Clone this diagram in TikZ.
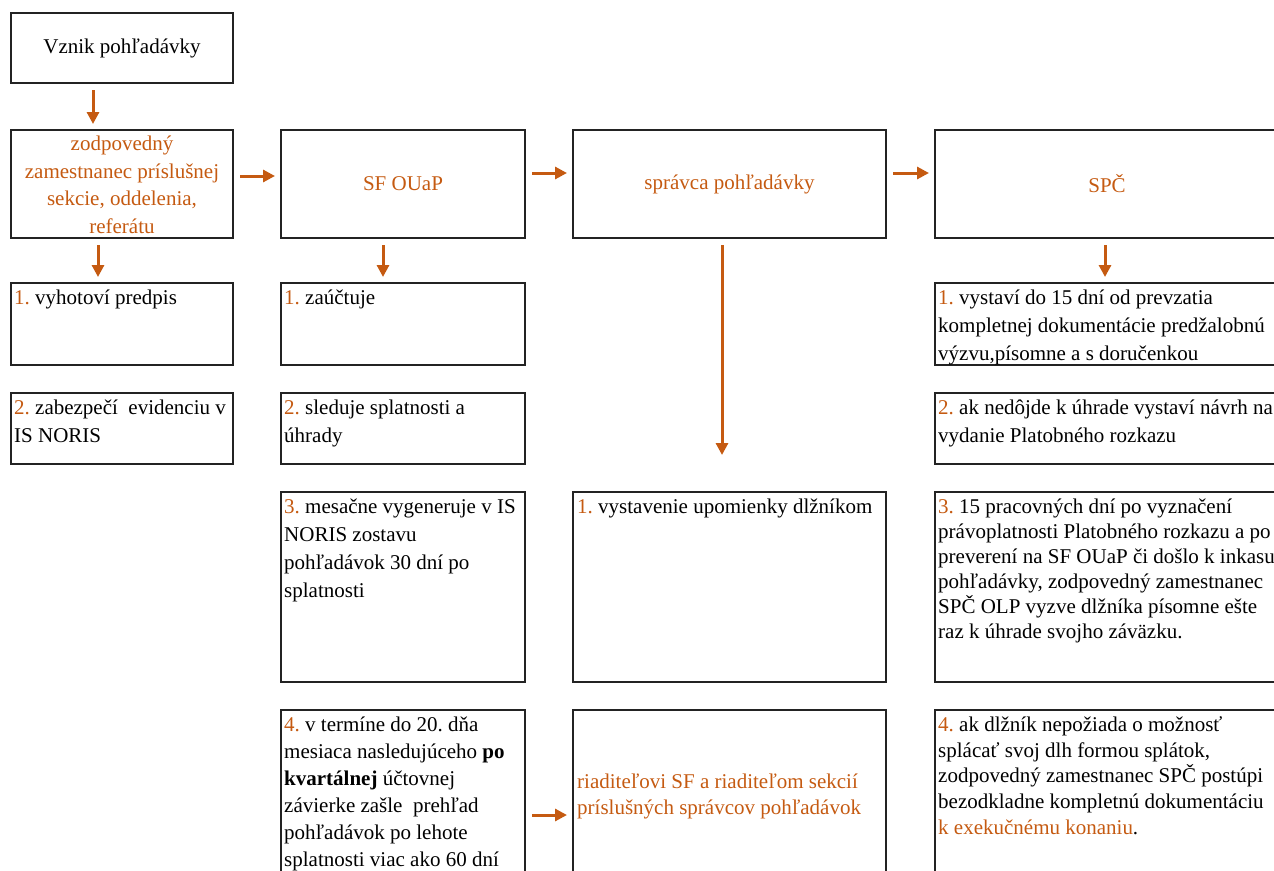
\documentclass[tikz,border=0pt]{standalone}
\usepackage{fontspec}
\setmainfont{Liberation Serif}
\usetikzlibrary{arrows.meta}
\definecolor{org}{RGB}{197,90,17}
\definecolor{boxline}{RGB}{35,35,35}
\newcommand\orn[1]{\textcolor{org}{#1}}
\newcommand\fl{\rule{0pt}{17pt}}
\frenchspacing
\begin{document}
\begin{tikzpicture}[x=1pt,y=-1pt,
  box/.style={draw=boxline, line width=1.6pt, anchor=north west, inner sep=0pt, outer sep=0pt},
  cbox/.style={box, align=center, font=\fontsize{21}{27.5}\selectfont},
  txt/.style={anchor=north west, inner sep=0pt, align=left},
  arr/.style={draw=org, line width=3pt, -{Triangle[length=12pt,width=12pt]}, shorten <=7pt, shorten >=6pt},
]
\useasboundingbox (0,0) rectangle (1274,870);
\clip (0,0) rectangle (1274,870);

% header boxes
\node[cbox, minimum width=222pt, minimum height=70pt] (vz) at (11,13) {Vznik pohľadávky};
\node[box, minimum width=222pt, minimum height=108pt] (a0) at (11,130) {};
\node[cbox, text=org, minimum width=244pt, minimum height=108pt] (b0) at (281,130) {SF OUaP};
\node[cbox, text=org, minimum width=313pt, minimum height=108pt] (c0) at (573,130) {správca pohľadávky};
\node[cbox, text=org, minimum width=344pt, minimum height=108pt] (d0) at (935,130) {SPČ};
\node[anchor=north, inner sep=0pt, align=center, text=org, font=\fontsize{21}{27.8}\selectfont] (a0t) at (122,133) {\fl zodpovedný\\zamestnanec príslušnej\\sekcie, oddelenia,\\referátu};

% step boxes
\node[box, minimum width=222pt, minimum height=82pt] (a1) at (11,283) {};
\node[box, minimum width=244pt, minimum height=82pt] (b1) at (281,283) {};
\node[box, minimum width=344pt, minimum height=82pt] (d1) at (935,283) {};
\node[box, minimum width=222pt, minimum height=71pt] (a2) at (11,393) {};
\node[box, minimum width=244pt, minimum height=71pt] (b2) at (281,393) {};
\node[box, minimum width=344pt, minimum height=71pt] (d2) at (935,393) {};
\node[box, minimum width=244pt, minimum height=190pt] (b3) at (281,492) {};
\node[box, minimum width=313pt, minimum height=190pt] (c3) at (573,492) {};
\node[box, minimum width=344pt, minimum height=190pt] (d3) at (935,492) {};
\node[box, minimum width=244pt, minimum height=200pt] (b4) at (281,710) {};
\node[box, minimum width=313pt, minimum height=200pt] (c4) at (573,710) {};
\node[box, minimum width=344pt, minimum height=200pt] (d4) at (935,710) {};

% texts
\node[txt, font=\fontsize{21}{28}\selectfont] (a1t) at (14,287) {\fl\orn{1.} vyhotoví predpis};
\node[txt, font=\fontsize{21}{28}\selectfont] (a2t) at (14,397) {\fl\orn{2.} zabezpečí~ evidenciu v\\IS NORIS};
\node[txt, font=\fontsize{21}{28}\selectfont] (b1t) at (284,287) {\fl\orn{1.} zaúčtuje};
\node[txt, font=\fontsize{21}{28}\selectfont] (b2t) at (284,397) {\fl\orn{2.} sleduje splatnosti a\\úhrady};
\node[txt, font=\fontsize{21}{28}\selectfont] (b3t) at (284,496) {\fl\orn{3.} mesačne vygeneruje v IS\\NORIS zostavu\\pohľadávok 30 dní po\\splatnosti};
\node[txt, font=\fontsize{21}{27}\selectfont] (b4t) at (284,714) {\fl\orn{4.} v termíne do 20. dňa\\mesiaca nasledujúceho \textbf{po}\\\textbf{kvartálnej} účtovnej\\závierke zašle~ prehľad\\pohľadávok po lehote\\splatnosti viac ako 60 dní};
\node[txt, font=\fontsize{21}{28}\selectfont] (c3t) at (577,496) {\fl\orn{1.} vystavenie upomienky dlžníkom};
\node[txt, text=org, font=\fontsize{21}{26}\selectfont] (c4t) at (577,771) {\fl riaditeľovi SF a riaditeľom sekcií\\príslušných správcov pohľadávok};
\node[txt, font=\fontsize{21}{28}\selectfont] (d1t) at (938,287) {\fl\orn{1.} vystaví do 15 dní od prevzatia\\kompletnej dokumentácie predžalobnú\\výzvu,písomne a s doručenkou};
\node[txt, font=\fontsize{21}{28}\selectfont] (d2t) at (938,397) {\fl\orn{2.} ak nedôjde k úhrade vystaví návrh na\\vydanie Platobného rozkazu};
\node[txt, font=\fontsize{21}{25}\selectfont] (d3t) at (938,496) {\fl\orn{3.} 15 pracovných dní po vyznačení\\právoplatnosti Platobného rozkazu a po\\preverení na SF OUaP či došlo k inkasu\\pohľadávky, zodpovedný zamestnanec\\SPČ OLP vyzve dlžníka písomne ešte\\raz k úhrade svojho záväzku.};
\node[txt, font=\fontsize{21}{25.8}\selectfont] (d4t) at (938,714) {\fl\orn{4.} ak dlžník nepožiada o možnosť\\splácať svoj dlh formou splátok,\\zodpovedný zamestnanec SPČ postúpi\\bezodkladne kompletnú dokumentáciu\\\orn{k exekučnému konaniu}.};

% connectors
\coordinate (cEnd) at (722,461);
\draw[arr] (vz.south -| 93,0) -- (a0.north -| 93,0);
\draw[arr] (a0.east |- 0,176) -- (b0.west |- 0,176);
\draw[arr] (b0.east |- 0,173) -- (c0.west |- 0,173);
\draw[arr] (c0.east |- 0,173) -- (d0.west |- 0,173);
\draw[arr] (a0.south -| 98,0) -- (a1.north -| 98,0);
\draw[arr] (b0.south -| 383,0) -- (b1.north -| 383,0);
\draw[arr] (d0.south -| 1105,0) -- (d1.north -| 1105,0);
\draw[arr] (c0.south -| 722,0) -- (cEnd);
\draw[arr] (b4.east |- 0,815) -- (c4.west |- 0,815);
\end{tikzpicture}
\end{document}
